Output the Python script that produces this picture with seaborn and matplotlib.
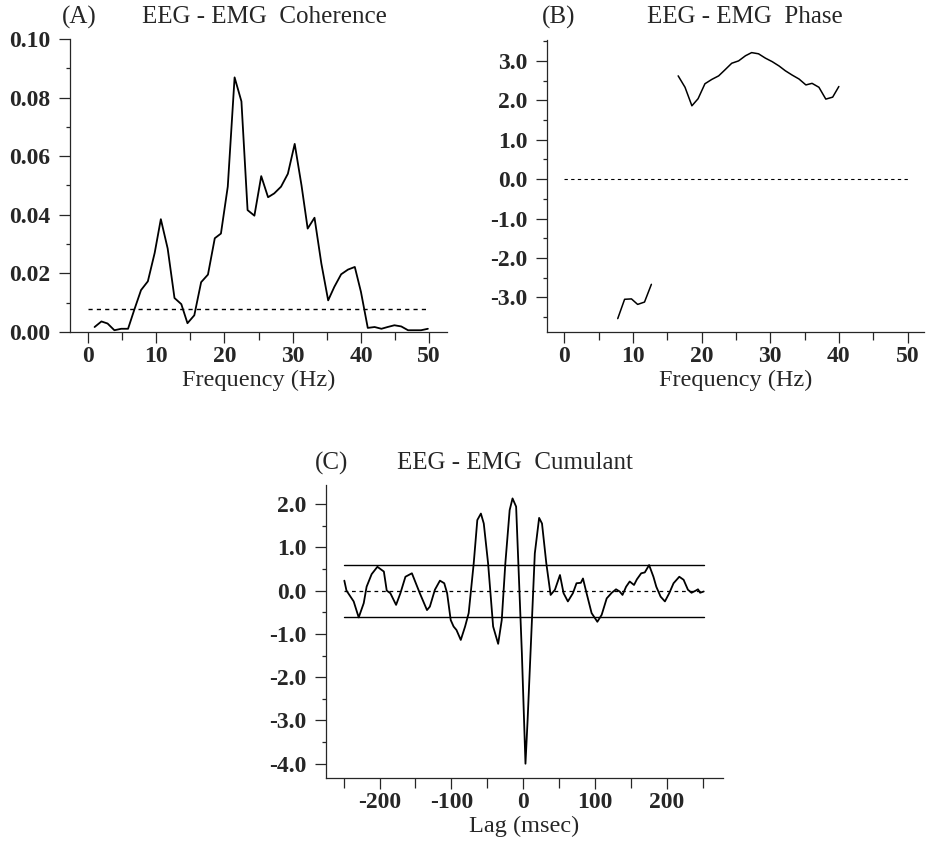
import numpy as np
import pandas as pd
import matplotlib
matplotlib.use("Agg")
import matplotlib.pyplot as plt
import seaborn as sns
from matplotlib.ticker import MultipleLocator, FormatStrFormatter

# ---------------- data ----------------
coh_freq = [1.0, 2.0, 2.9, 3.9, 4.9, 5.9, 6.8, 7.8, 8.8, 9.8, 10.7, 11.7, 12.7, 13.7,
            14.6, 15.6, 16.6, 17.6, 18.6, 19.5, 20.5, 21.5, 22.5, 23.4, 24.4, 25.4,
            26.4, 27.3, 28.3, 29.3, 30.3, 31.3, 32.2, 33.2, 34.2, 35.2, 36.1, 37.1,
            38.1, 39.1, 40.0, 41.0, 42.0, 43.0, 43.9, 44.9, 45.9, 46.9, 47.9, 48.8, 49.8]
coh_values = [0.0017, 0.0036, 0.0029, 0.0006, 0.0011, 0.0011, 0.0075, 0.0143, 0.0173,
              0.0270, 0.0385, 0.0285, 0.0116, 0.0095, 0.0030, 0.0057, 0.0170, 0.0196,
              0.0320, 0.0336, 0.0496, 0.0869, 0.0787, 0.0416, 0.0397, 0.0532, 0.0460,
              0.0473, 0.0496, 0.0540, 0.0642, 0.0500, 0.0353, 0.0390, 0.0234, 0.0108,
              0.0154, 0.0197, 0.0213, 0.0222, 0.0137, 0.0014, 0.0017, 0.0011, 0.0017,
              0.0023, 0.0019, 0.0006, 0.0006, 0.0006, 0.0011]
coh_threshold = 0.008

phase_freq = [7.8, 8.8, 9.8, 10.7, 11.7, 12.7,
              16.6, 17.6, 18.6, 19.5, 20.5, 21.5, 22.5, 23.4, 24.4, 25.4, 26.4, 27.3,
              28.3, 29.3, 30.3, 31.3, 32.2, 33.2, 34.2, 35.2, 36.1, 37.1, 38.1, 39.1, 40.0]
phase_values = [-3.54, -3.05, -3.04, -3.18, -3.12, -2.67,
                2.62, 2.33, 1.86, 2.04, 2.42, 2.53, 2.62, 2.77, 2.94, 3.00, 3.13, 3.21,
                3.18, 3.07, 2.98, 2.87, 2.75, 2.64, 2.54, 2.39, 2.43, 2.33, 2.03, 2.08, 2.35]
phase_segment = [1] * 6 + [2] * 25

lag_ms = [-249, -246, -242, -236, -229, -222, -218, -211, -203, -194, -190, -185, -177,
          -171, -164, -155, -144, -134, -130, -123, -116, -110, -106, -101, -97, -93,
          -87, -81, -76, -69, -64, -59, -55, -49, -42, -35, -30, -25, -19, -15, -10,
          -6, -2, 3, 6, 12, 16, 22, 26, 32, 38, 44, 51, 56, 62, 69, 74, 80, 83, 88,
          95, 103, 109, 116, 123, 129, 134, 138, 143, 148, 154, 158, 164, 169, 175,
          181, 185, 191, 197, 203, 209, 217, 223, 229, 234, 240, 243, 246, 251]
cumulant = [0.23, 0.00, -0.10, -0.25, -0.62, -0.29, 0.09, 0.38, 0.55, 0.44, 0.00, -0.06,
            -0.33, -0.06, 0.32, 0.40, -0.06, -0.45, -0.37, 0.02, 0.23, 0.17, -0.06, -0.68,
            -0.83, -0.91, -1.14, -0.83, -0.52, 0.63, 1.63, 1.78, 1.55, 0.63, -0.83, -1.23,
            -0.68, 0.63, 1.86, 2.13, 1.94, 0.25, -1.45, -4.00, -2.98, -0.68, 0.86, 1.68,
            1.55, 0.63, -0.10, 0.02, 0.36, -0.06, -0.25, -0.06, 0.17, 0.18, 0.28, -0.06,
            -0.52, -0.72, -0.56, -0.18, -0.05, 0.03, -0.02, -0.10, 0.09, 0.21, 0.13, 0.26,
            0.40, 0.42, 0.59, 0.32, 0.09, -0.14, -0.25, -0.06, 0.17, 0.32, 0.25, 0.02,
            -0.05, 0.00, 0.03, -0.05, -0.02]
cum_limit = 0.6

# ---------------- style ----------------
sns.set_style("ticks")
plt.rcParams["font.family"] = ["Liberation Serif", "DejaVu Serif"]
plt.rcParams["axes.linewidth"] = 0.9
plt.rcParams["xtick.major.width"] = 0.9
plt.rcParams["ytick.major.width"] = 0.9
plt.rcParams["xtick.minor.width"] = 0.9
plt.rcParams["ytick.minor.width"] = 0.9

TICK_FS = 17
LABEL_FS = 17.5
TITLE_FS = 18

W, H = 934, 841
fig = plt.figure(figsize=(W / 100, H / 100), dpi=100)


def add_ax(x0, x1, y0, y1):
    return fig.add_axes([x0 / W, 1 - y1 / H, (x1 - x0) / W, (y1 - y0) / H])


def style_ax(ax, xmaj, xmin, ymaj, ymin, yfmt):
    sns.despine(ax=ax)
    ax.xaxis.set_major_locator(MultipleLocator(xmaj))
    ax.xaxis.set_minor_locator(MultipleLocator(xmin))
    ax.yaxis.set_major_locator(MultipleLocator(ymaj))
    ax.yaxis.set_minor_locator(MultipleLocator(ymin))
    ax.yaxis.set_major_formatter(FormatStrFormatter(yfmt))
    ax.tick_params(axis="x", which="major", length=8, direction="out", pad=2)
    ax.tick_params(axis="x", which="minor", length=5.5, direction="out")
    ax.tick_params(axis="y", which="major", length=8, direction="out", pad=6)
    ax.tick_params(axis="y", which="minor", length=3, direction="out")
    for lab in ax.get_yticklabels():
        lab.set_fontsize(TICK_FS)
        lab.set_fontweight("bold")
    ax.set_ylabel("")
    ax.grid(False)


def title(yp, tag, xtag, text, xt):
    fig.text(xtag / W, 1 - yp / H, tag, fontsize=TITLE_FS, va="center", ha="left")
    fig.text(xt / W, 1 - yp / H, text, fontsize=TITLE_FS, va="center", ha="left")


# ---------------- panel A ----------------
axA = add_ax(70, 447, 39, 332)
dfA = pd.DataFrame({"f": coh_freq, "c": coh_values})
sns.lineplot(data=dfA, x="f", y="c", ax=axA, color="black", linewidth=1.3)
axA.plot([0, 50], [coh_threshold, coh_threshold], ls=(0, (3, 3)), color="black", lw=1.0)
axA.set_xlim(-2.6, 52.6)
axA.set_ylim(0.0, 0.10)
style_ax(axA, 10, 5, 0.02, 0.01, "%.2f")
axA.set_xticks([0, 10, 20, 30, 40, 50])
axA.set_xticklabels(["0", "10", "20", "30", "40", "50"], fontsize=TICK_FS, fontweight="bold")
axA.set_xlabel("Frequency (Hz)", fontsize=LABEL_FS, labelpad=2)
title(17, "(A)", 62, "EEG - EMG  Coherence", 142)

# ---------------- panel B ----------------
axB = add_ax(547, 924, 40, 332)
dfB = pd.DataFrame({"f": phase_freq, "p": phase_values, "seg": phase_segment})
sns.lineplot(data=dfB, x="f", y="p", units="seg", estimator=None, ax=axB,
             color="black", linewidth=1.1)
axB.plot([0, 50], [0, 0], ls=(0, (3, 3)), color="black", lw=0.8)
axB.set_xlim(-2.5, 52.4)
axB.set_ylim(-3.88, 3.53)
style_ax(axB, 10, 5, 1.0, 0.5, "%.1f")
axB.set_xticks([0, 10, 20, 30, 40, 50])
axB.set_xticklabels(["0", "10", "20", "30", "40", "50"], fontsize=TICK_FS, fontweight="bold")
axB.set_xlabel("Frequency (Hz)", fontsize=LABEL_FS, labelpad=2)
title(17, "(B)", 542, "EEG - EMG  Phase", 647)

# ---------------- panel C ----------------
axC = add_ax(326, 723, 485, 778)
dfC = pd.DataFrame({"lag": lag_ms, "q": cumulant})
sns.lineplot(data=dfC, x="lag", y="q", ax=axC, color="black", linewidth=1.3)
axC.plot([-250, 252], [cum_limit, cum_limit], color="black", lw=1.0)
axC.plot([-250, 252], [-cum_limit, -cum_limit], color="black", lw=1.0)
axC.plot([-250, 250], [0, 0], ls=(0, (3, 3)), color="black", lw=0.9)
axC.set_xlim(-274.5, 277.8)
axC.set_ylim(-4.33, 2.44)
style_ax(axC, 100, 50, 1.0, 0.5, "%.1f")
axC.tick_params(axis="x", which="minor", length=7)
axC.set_xticks([-200, -100, 0, 100, 200])
axC.set_xticklabels(["-200", "-100", "0", "100", "200"], fontsize=TICK_FS, fontweight="bold")
axC.set_xlabel("Lag (msec)", fontsize=LABEL_FS, labelpad=2)
title(463, "(C)", 315, "EEG - EMG  Cumulant", 397)

fig.savefig("out.png", dpi=100)
